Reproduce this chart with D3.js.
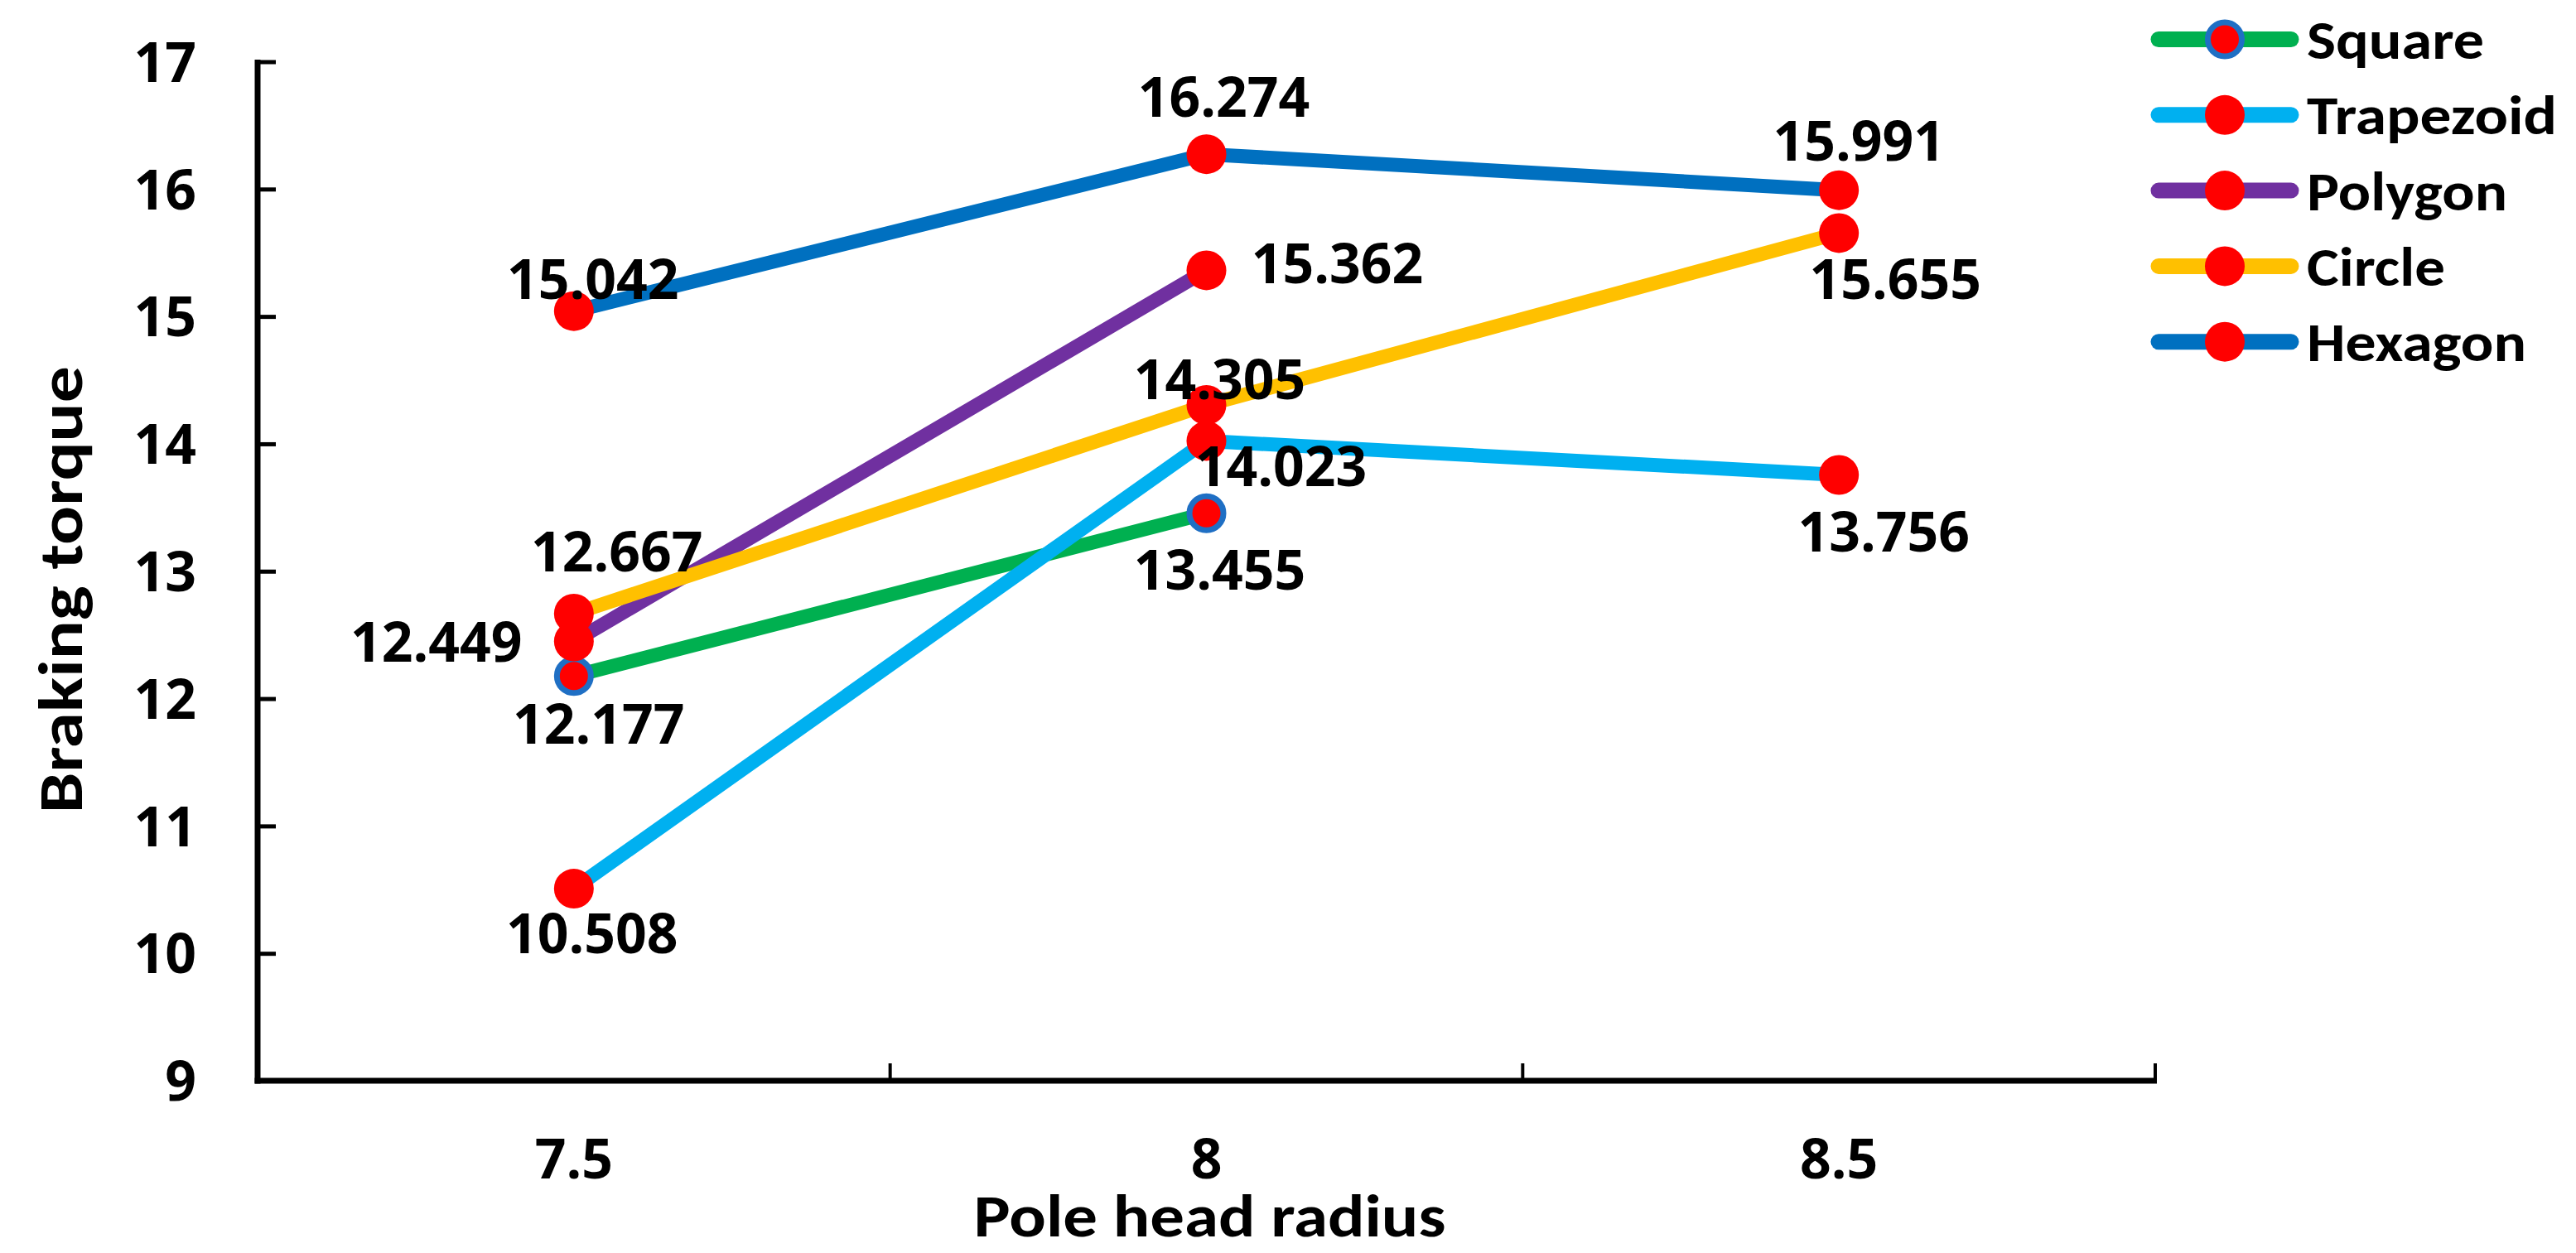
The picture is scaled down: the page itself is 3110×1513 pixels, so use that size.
<!DOCTYPE html>
<html>
<head>
<meta charset="utf-8">
<script src="https://cdn.jsdelivr.net/npm/d3@7"></script>
<style>
  html, body { margin: 0; padding: 0; background: #ffffff; }
  svg { display: block; }
</style>
</head>
<body>
<script>
// ---------------- data ----------------
const categories = ["7.5", "8", "8.5"];
const yTicks = [9, 10, 11, 12, 13, 14, 15, 16, 17];
const seriesNames = ["Square", "Trapezoid", "Polygon", "Circle", "Hexagon"];
const squareValues    = [12.177, 13.455, null];
const trapezoidValues = [10.508, 14.023, 13.756];
const polygonValues   = [12.449, 15.362, null];
const circleValues    = [12.667, 14.305, 15.655];
const hexagonValues   = [15.042, 16.274, 15.991];
const xTitle = "Pole head radius";
const yTitle = "Braking torque";

// ---------------- layout / style (not data) ----------------
const W = 3110, H = 1513;
const plot = { left: 311, right: 2602, top: 74.5, bottom: 1305 };
const seriesColors = ["#00B050", "#00B0F0", "#7030A0", "#FFC000", "#0070C0"];
const markerFill = "#FF0000";
const squareRing = "#1F6FC4";
// label offsets relative to the point (dx, dy of label centre)
const labelOffsets = [
  [[30, 58], [16, 68], null],
  [[22, 54], [90, 31], [54, 69]],
  [[-166, 1], [158, -8], null],
  [[52, -75], [16, -31], [68, 56]],
  [[23, -38], [21, -69], [24, -59]]
];
const legendTextWidths = [214, 302, 242, 167, 265];
const numFont = "'Segoe UI', 'Open Sans', sans-serif";
const titleFont = "Carlito, Calibri, Lato, sans-serif";

const allValues = [squareValues, trapezoidValues, polygonValues, circleValues, hexagonValues];
const series = seriesNames.map((name, i) => ({
  name, color: seriesColors[i],
  points: categories.map((c, j) => ({ cat: c, v: allValues[i][j], off: labelOffsets[i][j] }))
}));

const svg = d3.select("body").append("svg")
  .attr("width", W).attr("height", H)
  .attr("viewBox", `0 0 ${W} ${H}`);
svg.append("rect").attr("width", W).attr("height", H).attr("fill", "#fff");

const x = d3.scaleBand().domain(categories).range([plot.left, plot.right]).padding(0);
const xc = c => x(c) + x.bandwidth() / 2;
const y = d3.scaleLinear().domain([9, 17]).range([plot.bottom, plot.top]);

// ---------------- Y axis ----------------
const yAxis = d3.axisLeft(y).tickValues(yTicks).tickSize(-22).tickPadding(74)
  .tickFormat(d3.format("d"));
const gy = svg.append("g").attr("transform", `translate(${plot.left},0)`).call(yAxis);
gy.select(".domain").remove();
gy.selectAll(".tick line").attr("stroke", "#000").attr("stroke-width", 5);
gy.selectAll(".tick text")
  .attr("font-family", numFont).attr("font-weight", 700).attr("font-size", 66)
  .attr("fill", "#000").attr("dy", "0.36em");
svg.append("line")
  .attr("x1", plot.left).attr("x2", plot.left)
  .attr("y1", y(17) - 2.5).attr("y2", y(9) + 3.5)
  .attr("stroke", "#000").attr("stroke-width", 7);

// ---------------- X axis ----------------
const xAxis = d3.axisBottom(x).tickSize(0).tickPadding(0);
const gx = svg.append("g").attr("transform", `translate(0,${plot.bottom})`).call(xAxis);
gx.select(".domain").remove();
gx.selectAll(".tick text")
  .attr("font-family", numFont).attr("font-weight", 700).attr("font-size", 66)
  .attr("fill", "#000").attr("dy", null).attr("y", 118);
const edges = categories.map(c => x(c)).concat([x.range()[1]]);
svg.append("g").selectAll("line").data(edges).join("line")
  .attr("x1", d => d).attr("x2", d => d)
  .attr("y1", plot.bottom).attr("y2", plot.bottom - 21)
  .attr("stroke", "#000").attr("stroke-width", 4);
svg.append("line")
  .attr("x1", plot.left - 3.5).attr("x2", plot.right + 2)
  .attr("y1", plot.bottom).attr("y2", plot.bottom)
  .attr("stroke", "#000").attr("stroke-width", 7);

// ---------------- titles ----------------
svg.append("text").text(xTitle)
  .attr("x", (plot.left + plot.right) / 2 + 4).attr("y", 1493)
  .attr("text-anchor", "middle")
  .attr("font-family", titleFont).attr("font-weight", 700).attr("font-size", 72)
  .attr("textLength", 570).attr("lengthAdjust", "spacingAndGlyphs")
  .attr("fill", "#000");
svg.append("text").text(yTitle)
  .attr("transform", `translate(99,712) rotate(-90)`)
  .attr("text-anchor", "middle")
  .attr("font-family", titleFont).attr("font-weight", 700).attr("font-size", 75)
  .attr("textLength", 540).attr("lengthAdjust", "spacingAndGlyphs")
  .attr("fill", "#000");

// ---------------- series ----------------
const line = d3.line().defined(d => d.v != null).x(d => xc(d.cat)).y(d => y(d.v));
series.forEach((s, i) => {
  const g = svg.append("g");
  g.append("path").datum(s.points).attr("d", line)
    .attr("fill", "none").attr("stroke", s.color).attr("stroke-width", 17)
    .attr("stroke-linecap", "round").attr("stroke-linejoin", "round");
  const pts = s.points.filter(d => d.v != null);
  if (i === 0) {
    g.selectAll("circle").data(pts).join("circle")
      .attr("cx", d => xc(d.cat)).attr("cy", d => y(d.v)).attr("r", 20.5)
      .attr("fill", markerFill).attr("stroke", squareRing).attr("stroke-width", 7);
  } else {
    g.selectAll("circle").data(pts).join("circle")
      .attr("cx", d => xc(d.cat)).attr("cy", d => y(d.v)).attr("r", 24)
      .attr("fill", markerFill);
  }
});

// ---------------- data labels ----------------
const labelG = svg.append("g");
series.forEach(s => {
  s.points.filter(d => d.v != null).forEach(d => {
    labelG.append("text")
      .text(d3.format(".3f")(d.v))
      .attr("x", xc(d.cat) + d.off[0])
      .attr("y", y(d.v) + d.off[1])
      .attr("dy", "0.36em")
      .attr("text-anchor", "middle")
      .attr("font-family", numFont).attr("font-weight", 700).attr("font-size", 66)
      .attr("fill", "#000");
  });
});

// ---------------- legend ----------------
const legend = svg.append("g");
series.forEach((s, i) => {
  const cy = 47.5 + i * 91.3;
  legend.append("line")
    .attr("x1", 2606).attr("x2", 2766).attr("y1", cy).attr("y2", cy)
    .attr("stroke", s.color).attr("stroke-width", 19).attr("stroke-linecap", "round");
  if (i === 0) {
    legend.append("circle").attr("cx", 2686).attr("cy", cy).attr("r", 20.5)
      .attr("fill", markerFill).attr("stroke", squareRing).attr("stroke-width", 7);
  } else {
    legend.append("circle").attr("cx", 2686).attr("cy", cy).attr("r", 24)
      .attr("fill", markerFill);
  }
  legend.append("text").text(s.name)
    .attr("x", 2785).attr("y", cy + 23.5)
    .attr("font-family", titleFont).attr("font-weight", 700).attr("font-size", 66)
    .attr("textLength", legendTextWidths[i]).attr("lengthAdjust", "spacingAndGlyphs")
    .attr("fill", "#000");
});
</script>
</body>
</html>
